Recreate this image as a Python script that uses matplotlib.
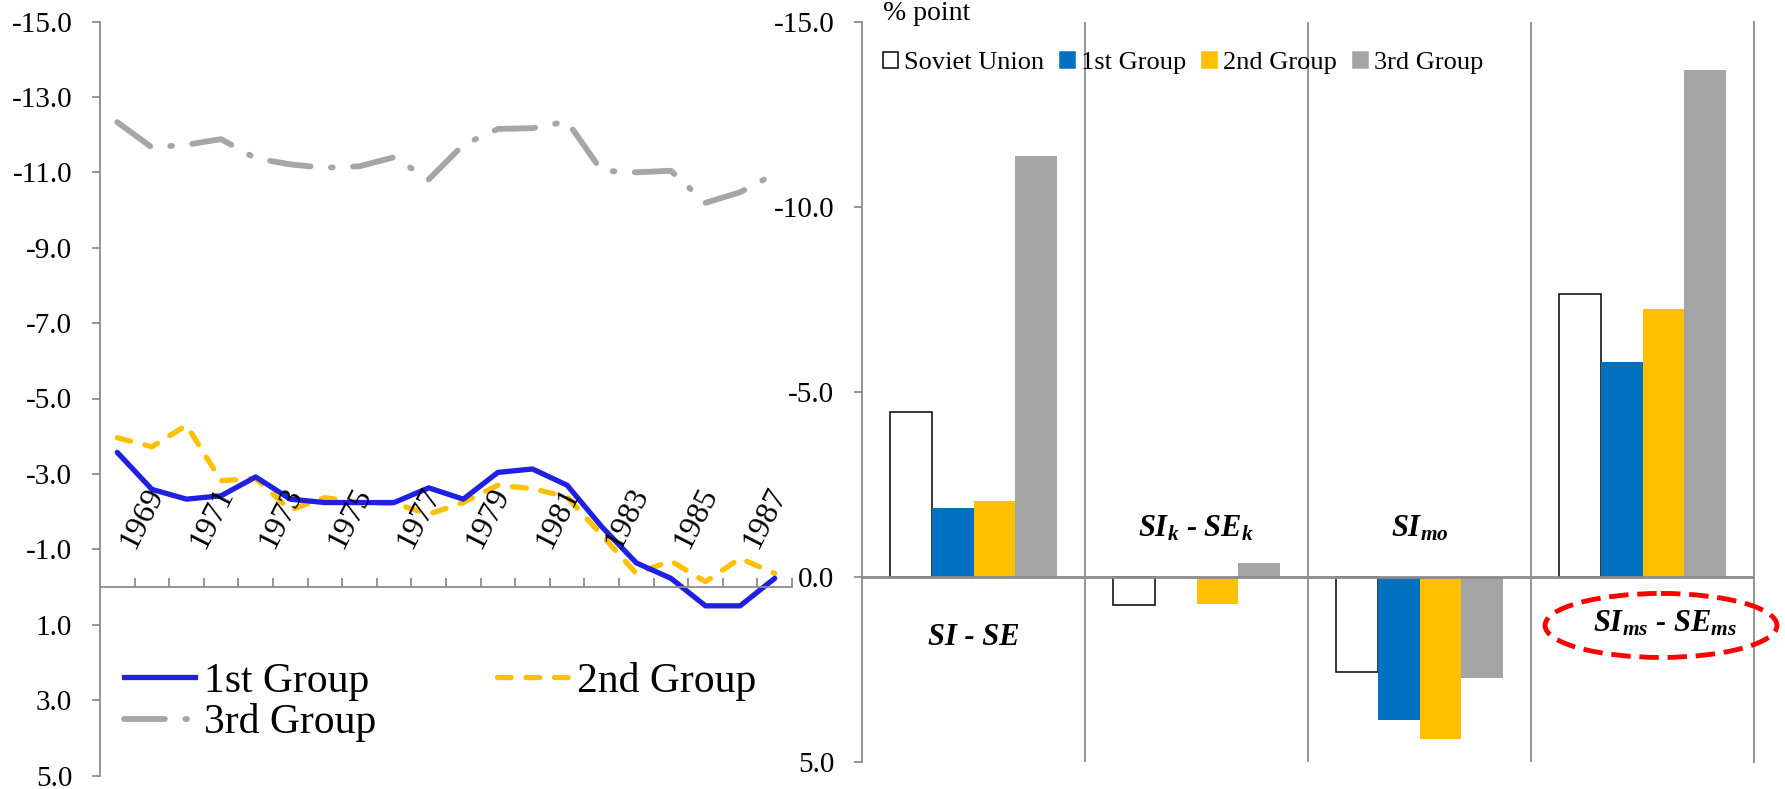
import matplotlib
matplotlib.use('Agg')
import matplotlib.pyplot as plt
from matplotlib.patches import Ellipse, Patch
from matplotlib.lines import Line2D

plt.rcParams['font.family'] = ['Liberation Serif', 'DejaVu Serif']
plt.rcParams['axes.unicode_minus'] = False
plt.rcParams['mathtext.fontset'] = 'custom'
plt.rcParams['mathtext.it'] = 'Liberation Serif:italic:bold'
plt.rcParams['mathtext.rm'] = 'Liberation Serif:bold'
plt.rcParams['mathtext.bf'] = 'Liberation Serif:bold'

# left panel: yearly series 1969-1988
years = list(range(1969, 1989))
group1 = [-3.57, -2.59, -2.33, -2.42, -2.92, -2.33, -2.24, -2.24, -2.24, -2.63,
          -2.33, -3.04, -3.13, -2.70, -1.60, -0.64, -0.23, 0.50, 0.50, -0.23]
group2 = [-3.96, -3.72, -4.29, -2.82, -2.88, -2.04, -2.37, -2.24, -2.22, -1.93,
          -2.24, -2.70, -2.61, -2.39, -1.38, -0.36, -0.69, -0.14, -0.76, -0.36]
group3 = [-12.33, -11.66, -11.73, -11.88, -11.37, -11.21, -11.12, -11.16, -11.40, -10.81,
          -11.73, -12.15, -12.17, -12.35, -11.04, -11.00, -11.04, -10.19, -10.47, -10.96]
series_names = ['1st Group', '2nd Group', '3rd Group']

# right panel: decomposition bars
categories = ['SI - SE', 'SI$_{k}$ - SE$_{k}$', 'SI$_{mo}$', 'SI$_{ms}$ - SE$_{ms}$']
soviet = [-4.46, 0.78, 2.59, -7.65]
bars_g1 = [-1.86, 0.0, 3.88, -5.81]
bars_g2 = [-2.04, 0.73, 4.40, -7.22]
bars_g3 = [-11.37, -0.38, 2.75, -13.68]
bar_names = ['Soviet Union', '1st Group', '2nd Group', '3rd Group']

W, H = 1785, 789
fig = plt.figure(figsize=(W / 100, H / 100), dpi=100)
grey = '#8C8C8C'
blue_line = '#2020E0'
yellow = '#FFC000'
grey_s = '#A6A6A6'

# ---------- left panel ----------
ax1 = fig.add_axes([100 / W, 13.5 / H, 692 / W, 754 / H])
x = list(range(len(years)))
ax1.plot(x, group3, color=grey_s, lw=4.2, dashes=(7, 3.5, 0.3, 3.5), dash_capstyle='round')
ax1.plot(x, group2, color=yellow, lw=3.8, dashes=(2.6, 2.8), dash_capstyle='round')
ax1.plot(x, group1, color=blue_line, lw=3.8, solid_capstyle='round')
ax1.set_xlim(-0.5, len(years) - 0.5)
ax1.set_ylim(5, -15)
ax1.set_yticks(range(-15, 6, 2))
ax1.set_yticklabels(['%.1f' % v for v in range(-15, 6, 2)], fontsize=21)
ax1.spines['top'].set_visible(False)
ax1.spines['right'].set_visible(False)
ax1.spines['bottom'].set_position(('data', 0))
for s in ['left', 'bottom']:
    ax1.spines[s].set_color(grey)
    ax1.spines[s].set_linewidth(1.3)
ax1.set_xticks([i + 0.5 for i in range(len(years))])
ax1.tick_params(axis='x', direction='in', length=6.5, color=grey, width=1.3, labelbottom=False)
ax1.tick_params(axis='y', direction='out', length=6, color=grey, width=1.3, pad=14)
for i, yr in enumerate(years):
    if yr % 2 == 1:
        ax1.text(i + 0.5, -0.98, str(yr), rotation=63, rotation_mode='anchor',
                 ha='left', va='baseline', fontsize=23)

handles = [Line2D([], [], color=blue_line, lw=3.8),
           Line2D([], [], color=yellow, lw=3.8, dashes=(2.6, 2.8), dash_capstyle='round'),
           Line2D([], [], color=grey_s, lw=4.2, dashes=(7, 3.5, 0.3, 3.5), dash_capstyle='round')]
order = [0, 2, 1]
fig.legend([handles[k] for k in order], [series_names[k] for k in order], ncol=2,
           loc='upper left', bbox_to_anchor=(124 / W, 127 / H), fontsize=30,
           frameon=False, borderpad=0, borderaxespad=0, labelspacing=0.05,
           handlelength=1.7, handletextpad=0.22, columnspacing=2.9)

# ---------- right panel ----------
ax2 = fig.add_axes([862 / W, 27.4 / H, 892 / W, 740 / H])
bw = 0.1875
groups = [soviet, bars_g1, bars_g2, bars_g3]
fills = ['white', '#0070C0', yellow, '#A5A5A5']
for j, (vals, fc) in enumerate(zip(groups, fills)):
    xs = [i + 0.125 + bw * j + bw / 2 for i in range(len(categories))]
    if j == 0:
        ax2.bar(xs, vals, width=bw, color=fc, edgecolor='black', linewidth=1.1, zorder=2)
    else:
        ax2.bar(xs, vals, width=bw, color=fc, linewidth=0, zorder=2)
ax2.set_xlim(0, 4)
ax2.set_ylim(5, -15)
ax2.set_yticks([-15, -10, -5, 0, 5])
ax2.set_yticklabels(['%.1f' % v for v in [-15, -10, -5, 0, 5]], fontsize=21)
ax2.set_xticks([])
for k in [1, 2, 3]:
    ax2.axvline(k, color=grey, lw=1.3, zorder=1)
ax2.axhline(0, color=grey, lw=2, zorder=3)
ax2.spines['top'].set_visible(False)
ax2.spines['bottom'].set_visible(False)
for s in ['left', 'right']:
    ax2.spines[s].set_color(grey)
    ax2.spines[s].set_linewidth(1.3)
ax2.tick_params(axis='y', direction='out', length=6, color=grey, width=1.3, pad=14)

label_pos = [(0.5, 1.65), (1.5, -1.3), (2.5, -1.3), (3.6, 1.27)]
for (lx, ly), lab in zip(label_pos, categories):
    ax2.text(lx, ly, lab, ha='center', va='center', fontsize=22,
             fontweight='bold', fontstyle='italic')

ax2.add_patch(Ellipse((3.583, 1.32), 1.04, 1.73, fill=False, edgecolor='#FF0000',
                      lw=3.5, linestyle=(0, (4, 1.8)), clip_on=False, zorder=4))

fig.text(883 / W, (H - 14) / H, '% point', fontsize=20, va='center')
bar_handles = [Patch(facecolor=fc, edgecolor='black' if k == 0 else fc, linewidth=1.1)
               for k, fc in enumerate(fills)]
fig.legend(bar_handles, bar_names, ncol=4, loc='center left',
           bbox_to_anchor=(883 / W, (H - 63) / H), fontsize=19, frameon=False,
           borderpad=0, borderaxespad=0, handlelength=0.55, handleheight=0.55,
           handletextpad=0.25, columnspacing=0.6)

fig.savefig('out.png', dpi=100, facecolor='white')
